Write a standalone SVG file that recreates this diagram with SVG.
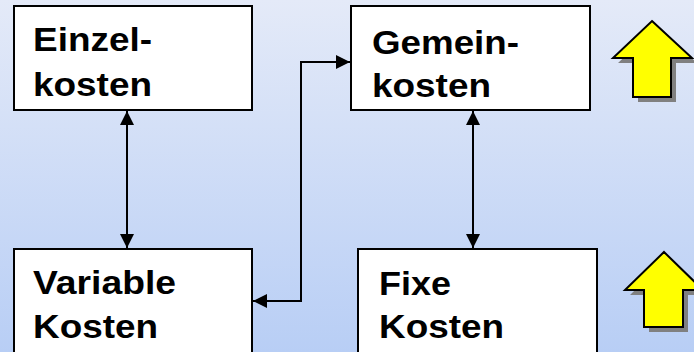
<svg xmlns="http://www.w3.org/2000/svg" width="694" height="352" viewBox="0 0 694 352">
  <defs>
    <linearGradient id="bg" x1="0" y1="0" x2="0" y2="1">
      <stop offset="0" stop-color="#E4EAF8"/>
      <stop offset="1" stop-color="#B8CEF5"/>
    </linearGradient>
    <marker id="ah" markerUnits="userSpaceOnUse" markerWidth="14" markerHeight="14" refX="14" refY="7" orient="auto-start-reverse">
      <path d="M0,0 L14,7 L0,14 z" fill="#000"/>
    </marker>
  </defs>
  <style>
    .box { fill: #fff; stroke: #000; stroke-width: 2; }
    .lbl { font-family: "Liberation Sans", Arial, sans-serif; font-weight: bold; font-size: 33px; fill: #000; }
    .conn { fill: none; stroke: #000; stroke-width: 2; marker-start: url(#ah); marker-end: url(#ah); }
    .up { fill: #FFFF00; stroke: #000; stroke-width: 2; stroke-linejoin: miter; }
    .upsh { fill: #808080; }
  </style>
  <rect x="0" y="0" width="694" height="352" fill="url(#bg)"/>

  <g id="einzelkosten">
    <rect class="box" x="14" y="6" width="238" height="104"/>
    <text class="lbl" x="33" y="51" textLength="119" lengthAdjust="spacingAndGlyphs">Einzel-</text>
    <text class="lbl" x="33" y="96" textLength="119" lengthAdjust="spacingAndGlyphs">kosten</text>
  </g>
  <g id="gemeinkosten">
    <rect class="box" x="351" y="6" width="239" height="104"/>
    <text class="lbl" x="372" y="54" textLength="147" lengthAdjust="spacingAndGlyphs">Gemein-</text>
    <text class="lbl" x="372" y="97" textLength="119" lengthAdjust="spacingAndGlyphs">kosten</text>
  </g>
  <g id="variable-kosten">
    <rect class="box" x="14" y="249" width="238" height="115"/>
    <text class="lbl" x="33" y="294" textLength="143" lengthAdjust="spacingAndGlyphs">Variable</text>
    <text class="lbl" x="33" y="338" textLength="125" lengthAdjust="spacingAndGlyphs">Kosten</text>
  </g>
  <g id="fixe-kosten">
    <rect class="box" x="358" y="249" width="239" height="115"/>
    <text class="lbl" x="379" y="295" textLength="72" lengthAdjust="spacingAndGlyphs">Fixe</text>
    <text class="lbl" x="379" y="338" textLength="125" lengthAdjust="spacingAndGlyphs">Kosten</text>
  </g>

  <g id="arrow-up-top">
    <path class="upsh" d="M657,26 L697,63 L676,63 L676,102 L638,102 L638,63 L618,63 Z"/>
    <path class="up" d="M652,21 L692,58 L671,58 L671,97 L633,97 L633,58 L613,58 Z"/>
  </g>
  <g id="arrow-up-bottom">
    <path class="upsh" d="M669,257 L708,295 L688,295 L688,332 L649,332 L649,295 L630,295 Z"/>
    <path class="up" d="M664,252 L703,290 L683,290 L683,327 L644,327 L644,290 L625,290 Z"/>
  </g>

  <g id="connectors">
    <line class="conn" x1="127" y1="111" x2="127" y2="248"/>
    <line class="conn" x1="473" y1="111" x2="473" y2="248"/>
    <polyline class="conn" points="253,301 301,301 301,62 350,62"/>
  </g>
</svg>
